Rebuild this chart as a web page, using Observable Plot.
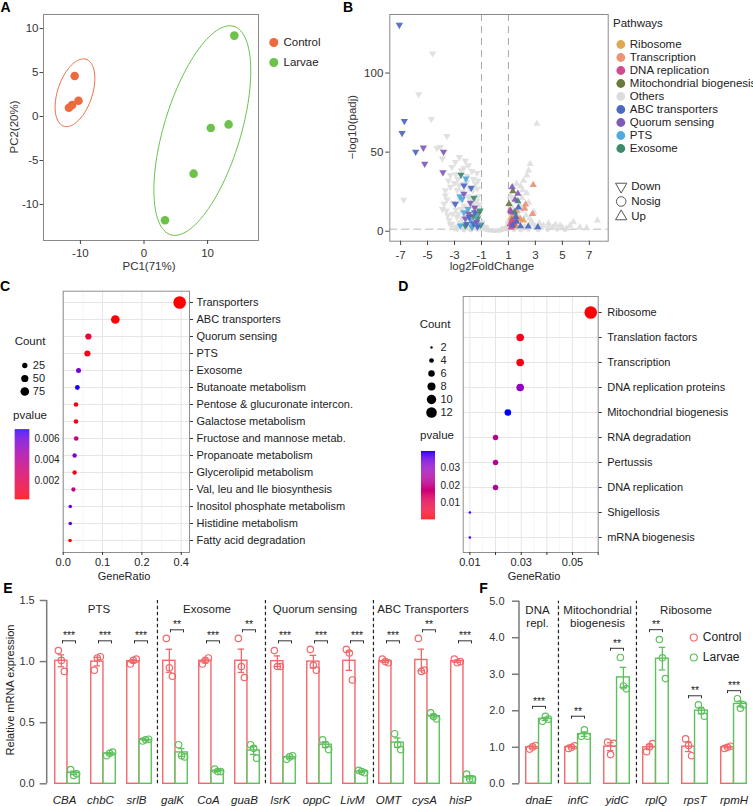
<!DOCTYPE html>
<html><head><meta charset="utf-8">
<script src="https://cdn.jsdelivr.net/npm/d3@7"></script>
<script src="https://cdn.jsdelivr.net/npm/@observablehq/plot@0.6"></script>
<style>
body{margin:0;background:#fff;}
#fig{position:relative;width:753px;height:806px;overflow:hidden;background:#fff;font-family:'Liberation Sans',Arial,Helvetica,sans-serif;color:#222;}
.t{position:absolute;white-space:nowrap;line-height:1;}
</style></head><body><div id="fig"></div>
<script>
// ================= DATA =================
// Panel A (PCA)
const pcaGroups = ["Control", "Larvae"];
const pcaColors = ["#EE6A3C", "#6CC24A"];
const controlPC1 = [-10.9, -11.8, -11.3, -10.3];
const controlPC2 = [4.6, 1.0, 1.3, 1.8];
const larvaePC1 = [14.2, 10.5, 13.3, 7.8, 3.3];
const larvaePC2 = [9.2, -1.3, -0.9, -6.5, -11.8];
const ellipseCenters = [[-10.85, 2.7], [9.17, -1.6]];
const ellipseAxisU = [[1.76, 3.8], [4.96, 11.85]];
const ellipseAxisV = [[2.58, -0.62], [5.78, -1.26]];
const pcaXTicks = [-10, 0, 10];
const pcaYTicks = [-10, -5, 0, 5, 10];

// Panel B (volcano)
const pathways = ["Ribosome","Transcription","DNA replication","Mitochondrial biogenesis","Others","ABC transporters","Quorum sensing","PTS","Exosome"];
const pathwayColors = ["#DBA94F","#EC9378","#CD4C8C","#697A3B","#DCDCDC","#4C68C0","#7F5BB8","#52A9DC","#3D8B69"];
const directions = ["Down","Nosig","Up"];
const volcXTicks = [-7,-5,-3,-1,1,3,5,7];
const volcYTicks = [0,50,100];
const volcOthers = [
 [-4.62,112.3],[-5.66,86.5],[-4.72,70.9],[-3.56,60.1],[-4.05,53.2],[-6.77,19.9],
 [-2.64,46.8],[-2.94,43.7],[-1.96,41.6],[-3.2,40.5],[-1.33,36.7],[-3.31,35.5],[-2.5,38.5],[-2.2,44.5],
 [-2.75,33],[-3.0,30.5],[-3.68,25.8],[-3.68,22.6],[-3.78,17.3],[-2.9,13.5],[-2.84,9.2],[-3.2,4.7],
 [-1.64,25.8],[-1.44,30.0],[-2.1,31],[-1.9,27],[-2.4,25],[-3.3,28],[-2.6,20],[-3.1,18],[-2.3,16],
 [-1.8,20.5],[-1.25,22],[-1.15,17],[-1.5,14],[-2.7,11],[-3.5,10],[-3.4,7],[-2.6,5.5],[-2.1,7],
 [-1.7,5],[-1.2,9],[-1.1,5.5],[-1.4,3],[-2.4,2.5],[-3.0,2.2],[-1.9,1.8],[-1.05,2.2],[-3.9,14],
 [-3.6,13],[-2.0,22],[-2.5,14],[-1.6,33],[-2.8,26],[-1.3,27],[-1.1,12],[-3.9,46],[-4.3,52.5],
 [-2.35,30],[-1.85,11],[-1.6,17.5],[-2.2,9.5],[-3.3,4],[-2.8,3],[-1.5,8],[-2.9,36],[-2.3,40],[-1.7,38],
 [-3.45,32],[-2.05,35],[-1.25,32],[-2.65,29],[-3.55,20],[-1.95,15],[-1.35,19],[-2.45,8],[-3.15,11],[-1.75,1.9],
 [3.11,68.0],[2.61,42.6],[2.37,35.3],[2.5,38.5],[2.12,32],[1.9,28.5],[1.15,22],[1.35,20.5],[2.0,21],
 [1.2,16],[2.35,24],[2.9,12],[2.6,8],[3.3,5],[3.97,5],[3.6,3.6],[4.83,3.6],[5.57,3.6],[5.82,5.7],
 [7.6,6.8],[4.3,2.5],[5.0,2.2],[4.5,4.2],[3.0,3],[2.3,10],[1.1,8],[1.7,11],[2.8,4.5],[6.3,2.4],
 [1.05,3],[2.05,26],[1.6,30],[2.2,15],[1.3,14],[1.85,16],[2.5,18],[1.5,4],[3.4,2.2],[4.0,2.8],
 [5.3,1.8],[6.8,2],[2.2,3],[1.25,11],[1.95,13],[2.7,6],[1.1,5],[1.7,2.2],
 [-0.95,1.5],[-0.9,2.5],[-0.85,3.5],[-0.8,1.8],[-0.7,0.9],[-0.6,1.2],[-0.5,0.6],[-0.4,0.8],[-0.3,0.4],
 [-0.2,0.6],[-0.1,0.3],[0,0.2],[0.1,0.4],[0.2,0.3],[0.3,0.6],[0.4,0.5],[0.5,0.8],[0.6,1.0],[0.7,1.4],
 [0.8,1.7],[0.85,2.6],[0.9,3.2],[0.95,1.2],[-0.95,4.5],[0.95,4.2],[-0.75,2.2],[0.75,2.3],[-1.3,0.9],
 [-1.8,0.7],[-2.3,0.6],[-2.8,0.9],[1.4,0.8],[1.9,0.6],[2.5,1.0],[3.2,0.7],[3.9,0.9],[4.6,1.1],[5.2,0.8],
 [-0.9,6],[0.92,5.5],[-0.6,2.8],[0.55,2]
];
const volcRibosome = [[1.38,9.9],[2.12,6.8],[1.5,4.2],[1.8,7.5],[1.3,6.2],[1.45,3.0],[1.6,9.0],[1.2,8.5]];
const volcTranscription = [[2.84,29.3],[2.27,16.9],[2.2,14.2],[2.79,11.0],[1.6,13.0],[1.4,10.5],[1.9,7.5]];
const volcDNArep = [[1.13,13.1],[1.13,4.5],[1.26,7.0],[1.4,5.0],[1.2,2.5],[1.55,6.5],[1.3,3.5]];
const volcMito = [[1.33,25.3],[1.04,17.3],[-1.25,11.0],[-1.6,9.5]];
const volcABC = [[-7.09,130.4],[-6.72,69.6],[-6.89,62.0],[-5.88,50.2],[-2.30,28.9],[-1.76,27.4],[-2.94,17.3],
 [-1.9,9.0],[-1.6,5.0],[-2.1,4.5],[-1.3,3.0],[-1.5,12.0],[1.74,15.0],[2.47,3.0],[3.18,2.6],[1.6,6.0],[1.9,3.2],[1.3,3.8],[1.55,9.0]];
const volcQuorum = [[-5.31,52.8],[-5.21,42.6],[-3.81,50.2],[-3.86,37.3],[-2.30,23.7],[-1.83,17.9],[-1.95,11.0],
 [-2.2,8.0],[-1.5,15.0],[-1.35,6.0],[1.28,27.8],[1.70,23.7],[1.5,20.0],[1.2,12.0]];
const volcPTS = [[-2.15,33.2],[-2.43,20.3],[-2.57,3.6],[-2.6,22.0],[-2.0,14.0],[-1.8,7.0],[-1.4,10.0],[-2.3,12.0],[-1.2,4.0],[-1.7,3.0]];
const volcExosome = [[-2.52,35.7],[-1.56,21.1],[-1.11,13.1],[-2.2,3.6],[-1.3,8.0],[-1.7,2.8],[-1.05,4.0],[1.7,19.0],[1.45,12.0]];

// Panel C (KEGG enrichment, down)
const cPathways = ["Transporters","ABC transporters","Quorum sensing","PTS","Exosome","Butanoate metabolism",
 "Pentose & glucuronate intercon.","Galactose metabolism","Fructose and mannose metab.","Propanoate metabolism",
 "Glycerolipid metabolism","Val, leu and Ile biosynthesis","Inositol phosphate metabolism","Histidine metabolism","Fatty acid degradation"];
const cGeneRatio = [0.296,0.1325,0.064,0.0615,0.039,0.036,0.0325,0.0325,0.033,0.029,0.029,0.026,0.018,0.018,0.0175];
const cCount = [167,75,36,35,22,20,18,18,19,16,16,15,10,10,10];
const cPvalue = [0.0002,0.0003,0.0012,0.0006,0.0058,0.0068,0.0005,0.0006,0.0032,0.0055,0.0005,0.0033,0.0060,0.0062,0.0003];
const cXTicks = [0, 0.1, 0.2, 0.3];
const cXTickLabels = ["0.0","0.1","0.2","0.4"];
const cCountLegend = [25, 50, 75];
const cPLegend = [0.002, 0.004, 0.006];

// Panel D (KEGG enrichment, up)
const dPathways = ["Ribosome","Translation factors","Transcription","DNA replication proteins","Mitochondrial biogenesis",
 "RNA degradation","Pertussis","DNA replication","Shigellosis","mRNA biogenesis"];
const dGeneRatio = [0.0571,0.0296,0.0296,0.0296,0.0248,0.0200,0.0200,0.0200,0.0100,0.0100];
const dCount = [12,6,6,6,5,4,4,4,2,2];
const dPvalue = [0.0005,0.0025,0.0015,0.030,0.0397,0.022,0.022,0.022,0.037,0.037];
const dXTicks = [0.01,0.02,0.03,0.04,0.05,0.06];
const dXLabelled = [0.01,0.03,0.05];
const dCountLegend = [2,4,6,8,10,12];
const dPLegend = [0.01,0.02,0.03];

// Panel E (qPCR, down genes)
const eGenes = ["CBA","chbC","srlB","galK","CoA","guaB","lsrK","oppC","LivM","OMT","cysA","hisP"];
const eControl = [[1.09,1.01,0.92],[0.93,1.03,1.04],[0.98,1.01,1.02],[1.19,0.95,0.88],[0.98,1.01,1.03],[1.19,0.96,0.87],
 [1.09,0.96,0.96],[1.10,0.97,0.93],[1.10,1.07,0.85],[1.02,1.00,0.99],[1.19,0.92,0.93],[1.02,0.99,1.00]];
const eLarvae = [[0.117,0.068,0.082],[0.23,0.25,0.26],[0.35,0.36,0.365],[0.32,0.23,0.22],[0.12,0.10,0.10],[0.32,0.29,0.21],
 [0.20,0.22,0.23],[0.36,0.32,0.28],[0.11,0.10,0.09],[0.41,0.32,0.28],[0.58,0.55,0.53],[0.08,0.04,0.04]];
const eStars = ["***","***","***","**","***","**","***","***","***","***","**","***"];
const eBracketY = [1.17,1.17,1.17,1.26,1.17,1.26,1.17,1.17,1.17,1.17,1.26,1.17];
const eGroupNames = ["PTS","Exosome","Quorum sensing","ABC Transporters"];
const eGroupCenterGenes = ["chbC","CoA","oppC","cysA"];
const eGroupStartGenes = ["galK","lsrK","OMT"];
const eYTicks = [0, 0.5, 1.0, 1.5];

// Panel F (qPCR, up genes)
const fGenes = ["dnaE","infC","yidC","rplQ","rpsT","rpmH"];
const fControl = [[0.95,1.01,1.05],[0.97,1.00,1.04],[1.14,0.80,1.11],[0.88,1.02,1.10],[1.23,1.05,0.77],[0.97,1.00,1.03]];
const fLarvae = [[1.71,1.85,1.77],[1.30,1.48,1.30],[3.46,2.68,2.60],[3.95,3.45,2.88],[2.16,2.00,1.85],[2.33,2.07,2.16]];
const fStars = ["***","**","**","**","**","***"];
const fBracketY = [2.12,1.85,3.71,4.22,2.41,2.55];
const fGroupNames = ["DNA\nrepl.","Mitochondrial\nbiogenesis","Ribosome"];
const fGroupAnchorGenes = ["dnaE","infC","rpsT"];
const fGroupStartGenes = ["infC","rplQ"];
const fYTicks = [0,1,2,3,4,5];

const qColors = ["#F2686B", "#5DC05D"];

// ================= HELPERS =================
const FONT = "'Liberation Sans', Arial, Helvetica, sans-serif";
const baseStyle = {fontFamily: FONT, fontSize: "11px", background: "transparent", overflow: "visible", color: "#222"};
const fig = document.getElementById("fig");
function place(el, left, top) {
  el.style.position = "absolute"; el.style.left = left + "px"; el.style.top = top + "px";
  fig.appendChild(el); return el;
}
function label(text, x, y, o = {}) {
  const d = document.createElement("div");
  d.className = "t"; d.textContent = text;
  d.style.fontSize = (o.size || 11) + "px";
  d.style.fontWeight = o.weight || "normal";
  d.style.color = o.color || "#222";
  d.style.left = x + "px"; d.style.top = y + "px";
  const tx = o.anchor === "start" ? "0" : o.anchor === "end" ? "-100%" : "-50%";
  d.style.transform = `translate(${tx},-50%)` + (o.rotate ? ` rotate(${o.rotate}deg)` : "");
  fig.appendChild(d);
}
const triDown = {
  draw(ctx, size) {
    const y = -Math.sqrt(size / (Math.sqrt(3) * 3));
    ctx.moveTo(0, -y * 2);
    ctx.lineTo(Math.sqrt(3) * y, y);
    ctx.lineTo(-Math.sqrt(3) * y, y);
    ctx.closePath();
  }
};
const fmt = d => `${d}`;
// vertical list legend scale helper
const listY = (domain, range) => ({type: "point", domain, range, padding: 0, axis: null});

// ================= PANEL A =================
const pcaRows = [
  ...controlPC1.map((x, i) => ({group: "Control", x, y: controlPC2[i]})),
  ...larvaePC1.map((x, i) => ({group: "Larvae", x, y: larvaePC2[i]}))
];
const ellipseRows = pcaGroups.flatMap((g, gi) => d3.range(0, 121).map(i => {
  const t = 2 * Math.PI * i / 120;
  return {group: g,
    x: ellipseCenters[gi][0] + ellipseAxisU[gi][0] * Math.cos(t) + ellipseAxisV[gi][0] * Math.sin(t),
    y: ellipseCenters[gi][1] + ellipseAxisU[gi][1] * Math.cos(t) + ellipseAxisV[gi][1] * Math.sin(t)};
}));
place(Plot.plot({
  width: 270, height: 280, marginLeft: 43, marginRight: 12, marginTop: 14, marginBottom: 40,
  style: baseStyle,
  x: {domain: [-15.8, 18]}, y: {domain: [-14.1, 11.6]},
  color: {domain: pcaGroups, range: pcaColors},
  marks: [
    Plot.line(ellipseRows, {x: "x", y: "y", z: "group", stroke: "group", strokeWidth: 1}),
    Plot.dot(pcaRows, {x: "x", y: "y", fill: "group", r: 4.3}),
    Plot.frame({stroke: "#8a8a8a"}),
    Plot.axisX({ticks: pcaXTicks, tickFormat: fmt, tickSize: 4, tickPadding: 4, stroke: "#444", fill: "#333", label: null, fontSize: 11.5}),
    Plot.axisY({ticks: pcaYTicks, tickFormat: fmt, tickSize: 3.5, tickPadding: 1.5, stroke: "#444", fill: "#333", label: null, fontSize: 11.5})
  ]
}), 0, 0);
place(Plot.plot({
  width: 100, height: 45, margin: 0, style: baseStyle,
  x: {type: "identity", axis: null}, y: listY(pcaGroups, [11.3, 32]),
  color: {domain: pcaGroups, range: pcaColors},
  marks: [
    Plot.dot(pcaGroups, {x: 11.3, y: d => d, fill: d => d, r: 4.5}),
    Plot.text(pcaGroups, {x: 21, y: d => d, text: d => d, textAnchor: "start", fontSize: 11.5, fill: "#222"})
  ]
}), 262, 30);
label("PC2(20%)", 15, 127, {rotate: -90, size: 11.5, color: "#333"});
label("PC1(71%)", 149, 267, {size: 11.5, color: "#333"});

// ================= PANEL B =================
function classify(x, y) { return x > 1 && y > 1.3 ? "Up" : x < -1 && y > 1.3 ? "Down" : "Nosig"; }
function vrows(arr, pathway) { return arr.map(([x, y]) => ({x, y, pathway, dir: classify(x, y)})); }
const othersRows = vrows(volcOthers, "Others");
const colouredRows = [
  ...vrows(volcRibosome, "Ribosome"), ...vrows(volcTranscription, "Transcription"),
  ...vrows(volcDNArep, "DNA replication"), ...vrows(volcMito, "Mitochondrial biogenesis"),
  ...vrows(volcExosome, "Exosome"), ...vrows(volcPTS, "PTS"),
  ...vrows(volcQuorum, "Quorum sensing"), ...vrows(volcABC, "ABC transporters")
];
const symFor = {Down: triDown, Nosig: "circle", Up: "triangle"};
const volcMarks = [];
for (const rows of [othersRows, colouredRows]) {
  for (const dir of directions) {
    volcMarks.push(Plot.dot(rows.filter(d => d.dir === dir), {
      x: "x", y: "y", fill: "pathway", symbol: symFor[dir], r: dir === "Nosig" ? 2.2 : 2.7,
      fillOpacity: rows === othersRows ? 0.85 : 0.92
    }));
  }
}
place(Plot.plot({
  width: 250, height: 275, marginLeft: 29.3, marginRight: 2.3, marginTop: 14, marginBottom: 34.3,
  style: baseStyle,
  x: {domain: [-7.8, 8.4]}, y: {domain: [-6.3, 137]},
  color: {domain: pathways, range: pathwayColors},
  marks: [
    Plot.ruleX([-1, 1], {stroke: "#a8a8a8", strokeDasharray: "7,5", strokeWidth: 1}),
    Plot.ruleY([1.3], {stroke: "#b8b8b8", strokeDasharray: "8,4", strokeWidth: 1}),
    ...volcMarks,
    Plot.frame({stroke: "#8a8a8a"}),
    Plot.axisX({ticks: volcXTicks, tickFormat: fmt, tickSize: 4.3, tickPadding: 5, stroke: "#444", fill: "#333", label: null, fontSize: 11.5}),
    Plot.axisY({ticks: volcYTicks, tickFormat: fmt, tickSize: 4, tickPadding: 2.5, stroke: "#444", fill: "#333", label: null, fontSize: 11.5})
  ]
}), 360, 0);
place(Plot.plot({
  width: 153, height: 135, margin: 0, style: baseStyle,
  x: {type: "identity", axis: null}, y: listY(pathways, [10.3, 121.7]),
  color: {domain: pathways, range: pathwayColors},
  marks: [
    Plot.dot(pathways, {x: 20.3, y: d => d, fill: d => d, r: 4.4}),
    Plot.text(pathways, {x: 29.3, y: d => d, text: d => d, textAnchor: "start", fontSize: 11.5, fill: "#222"})
  ]
}), 600, 30);
place(Plot.plot({
  width: 100, height: 55, margin: 0, style: baseStyle,
  x: {type: "identity", axis: null}, y: listY(directions, [10.3, 42.3]),
  marks: [
    ...directions.map(dir => Plot.dot([dir], {x: 20.7, y: d => d, symbol: symFor[dir], r: dir === "Nosig" ? 4.8 : 4.2, stroke: "#555", strokeWidth: 1, fill: "none"})),
    Plot.text(directions, {x: 30.7, y: d => d, text: d => d, textAnchor: "start", fontSize: 11.5, fill: "#222"})
  ]
}), 600, 175);
label("Pathways", 613, 24, {anchor: "start", size: 11.5});
label("\u2212log10(padj)", 353, 127, {rotate: -90, size: 11.5, color: "#333"});
label("log2FoldChange", 492, 267, {size: 11.5, color: "#333"});

// ================= PANEL C =================
const cRows = cPathways.map((name, i) => ({name, ratio: cGeneRatio[i], count: cCount[i], p: cPvalue[i]}));
const cColor = {type: "linear", domain: [0.00025, 0.00685], range: ["#ff0000", "#0000ff"], interpolate: "lab"};
const cR = {type: "sqrt", domain: [10, 167], range: [1.8, 6.3]};
place(Plot.plot({
  width: 370, height: 310, marginLeft: 62.7, marginRight: 181, marginTop: 20.7, marginBottom: 28,
  style: baseStyle,
  x: {domain: [0, 0.321]},
  y: {type: "point", domain: cPathways, padding: 0.65},
  r: cR, color: cColor,
  marks: [
    Plot.gridX([0.05, 0.15, 0.25], {stroke: "#f0f0f0", strokeOpacity: 1, strokeWidth: 0.6}),
    Plot.gridX(cXTicks, {stroke: "#e6e6e6", strokeOpacity: 1, strokeWidth: 1}),
    Plot.gridY(cPathways, {stroke: "#e6e6e6", strokeOpacity: 1, strokeWidth: 1}),
    Plot.frame({stroke: "#8f8f8f"}),
    Plot.dot(cRows, {x: "ratio", y: "name", r: "count", fill: "p"}),
    Plot.axisX({ticks: cXTicks, tickFormat: d => cXTickLabels[cXTicks.indexOf(d)], tickSize: 3, tickPadding: 2.5, stroke: "#333", fill: "#222", label: null, fontSize: 11}),
    Plot.axisY({anchor: "right", tickSize: 3, tickPadding: 4, stroke: "#333", fill: "#1a1a1a", label: null, fontSize: 11})
  ]
}), 0, 270);
place(Plot.plot({
  width: 60, height: 45, margin: 0, style: baseStyle,
  x: {type: "identity", axis: null}, y: listY(cCountLegend, [9.3, 36.7]),
  r: cR,
  marks: [
    Plot.dot(cCountLegend, {x: 24.3, y: d => d, r: d => d, fill: "#000"}),
    Plot.text(cCountLegend, {x: 32.3, y: d => d, text: d => `${d}`, textAnchor: "start", fontSize: 11, fill: "#222"})
  ]
}), 0, 355);
const cBarSamples = d3.range(0, 70).map(i => cColor.domain[0] + (cColor.domain[1] - cColor.domain[0]) * i / 70);
const cBarStep = (cColor.domain[1] - cColor.domain[0]) / 70;
place(Plot.plot({
  width: 70, height: 90, margin: 0, style: baseStyle,
  x: {type: "identity", axis: null}, y: {domain: cColor.domain, range: [79.3, 9.3], axis: null},
  color: cColor,
  marks: [
    Plot.rect(cBarSamples, {x1: 14.7, x2: 29.3, y1: d => d, y2: d => d + cBarStep * 1.05, fill: d => d}),
    Plot.text(cPLegend, {x: 34, y: d => d, text: d => d.toFixed(3), textAnchor: "start", fontSize: 10, fill: "#222"})
  ]
}), 0, 420);
label("Count", 30, 342, {size: 11.5});
label("pvalue", 30, 416, {size: 11.5});
label("GeneRatio", 124, 575.5, {size: 11});

// ================= PANEL D =================
const dRows = dPathways.map((name, i) => ({name, ratio: dGeneRatio[i], count: dCount[i], p: dPvalue[i]}));
const dColor = {type: "linear", domain: [0.0002, 0.0397], range: ["#ff0000", "#0000ff"], interpolate: "lab"};
place(Plot.plot({
  width: 383, height: 310, marginLeft: 92.7, marginRight: 155.3, marginTop: 26, marginBottom: 28,
  style: baseStyle,
  x: {domain: [0.0074, 0.06]},
  y: {type: "point", domain: dPathways, padding: 0.6},
  r: {type: "sqrt", domain: [2, 12], range: [1.3, 6.3]}, color: dColor,
  marks: [
    Plot.gridX([0.015, 0.025, 0.035, 0.045, 0.055], {stroke: "#f0f0f0", strokeOpacity: 1, strokeWidth: 0.6}),
    Plot.gridX(dXTicks, {stroke: "#e6e6e6", strokeOpacity: 1, strokeWidth: 1}),
    Plot.gridY(dPathways, {stroke: "#e6e6e6", strokeOpacity: 1, strokeWidth: 1}),
    Plot.frame({stroke: "#8f8f8f"}),
    Plot.dot(dRows, {x: "ratio", y: "name", r: "count", fill: "p"}),
    Plot.axisX({ticks: dXTicks, tickFormat: d => dXLabelled.includes(d) ? d.toFixed(2) : "", tickSize: 3, tickPadding: 2.5, stroke: "#333", fill: "#222", label: null, fontSize: 11}),
    Plot.axisY({anchor: "right", tickSize: 3, tickPadding: 6, stroke: "#333", fill: "#1a1a1a", label: null, fontSize: 11})
  ]
}), 370, 270);
place(Plot.plot({
  width: 50, height: 82, margin: 0, style: baseStyle,
  x: {type: "identity", axis: null}, y: listY(dCountLegend, [7.7, 74.7]),
  r: {type: "sqrt", domain: [2, 12], range: [1.2, 5.3]},
  marks: [
    Plot.dot(dCountLegend, {x: 21, y: d => d, r: d => d, fill: "#000"}),
    Plot.text(dCountLegend, {x: 30, y: d => d, text: d => `${d}`, textAnchor: "start", fontSize: 11, fill: "#222"})
  ]
}), 410, 338);
const dBarSamples = d3.range(0, 70).map(i => dColor.domain[0] + (dColor.domain[1] - dColor.domain[0]) * i / 70);
const dBarStep = (dColor.domain[1] - dColor.domain[0]) / 70;
place(Plot.plot({
  width: 70, height: 90, margin: 0, style: baseStyle,
  x: {type: "identity", axis: null}, y: {domain: dColor.domain, range: [79.3, 11], axis: null},
  color: dColor,
  marks: [
    Plot.rect(dBarSamples, {x1: 11, x2: 25, y1: d => d, y2: d => d + dBarStep * 1.05, fill: d => d}),
    Plot.text(dPLegend, {x: 30, y: d => d, text: d => d.toFixed(2), textAnchor: "start", fontSize: 10, fill: "#222"})
  ]
}), 410, 440);
label("Count", 435, 325, {size: 11.5});
label("pvalue", 437, 436, {size: 11.5});
label("GeneRatio", 534, 575.5, {size: 11});

// ================= PANELS E & F =================
function barPanel(cfg) {
  const n = cfg.genes.length;
  const step = (cfg.width - cfg.ml - cfg.mr) / (n + 2 * cfg.outer);
  const half = step / 2, bw = cfg.barW, cap = 3.3, bh = 6.5;
  const rows = cfg.genes.flatMap((gene, i) => [
    {gene, group: "Control", reps: cfg.control[i]},
    {gene, group: "Larvae", reps: cfg.larvae[i]}
  ]).map(d => ({...d, mean: d3.mean(d.reps), se: d3.deviation(d.reps) / Math.sqrt(d.reps.length)}));
  const pts = rows.flatMap(d => d.reps.map((value, k) => ({gene: d.gene, group: d.group, value, k})));
  const sig = cfg.genes.map((gene, i) => ({gene, stars: cfg.stars[i], yb: cfg.bracketY[i]}));
  const marks = [];
  marks.push(Plot.ruleX(cfg.separators, {x: d => d, dx: -half, y1: cfg.yDomain[0], y2: cfg.yDomain[1], stroke: "#222", strokeWidth: 1.2, strokeDasharray: "3.5,2.5"}));
  marks.push((index, scales, values, dims) => {
    const l = document.createElementNS("http://www.w3.org/2000/svg", "line");
    l.setAttribute("x1", dims.marginLeft); l.setAttribute("x2", dims.marginLeft);
    l.setAttribute("y1", scales.y(cfg.yDomain[0])); l.setAttribute("y2", scales.y(cfg.yDomain[1]));
    l.setAttribute("stroke", "#7a7a7a"); l.setAttribute("stroke-width", 1.5);
    return l;
  });
  ["Control", "Larvae"].forEach((g, gi) => {
    const col = qColors[gi];
    const sign = gi === 0 ? -1 : 1;
    const data = rows.filter(d => d.group === g);
    marks.push(Plot.barY(data, {x: "gene", y: "mean", insetLeft: gi === 0 ? half - bw : half, insetRight: gi === 0 ? half : half - bw, fill: "white", stroke: col, strokeWidth: 1.4}));
    marks.push(Plot.ruleX(data, {x: "gene", y1: d => d.mean - d.se, y2: d => d.mean + d.se, dx: sign * bw / 2, stroke: col, strokeWidth: 1.3}));
    const il = gi === 0 ? half - bw / 2 - cap : half + bw / 2 - cap;
    const ir = gi === 0 ? half + bw / 2 - cap : half - bw / 2 - cap;
    marks.push(Plot.tickY(data, {x: "gene", y: d => d.mean + d.se, insetLeft: il, insetRight: ir, stroke: col, strokeWidth: 1.3}));
    marks.push(Plot.tickY(data, {x: "gene", y: d => d.mean - d.se, insetLeft: il, insetRight: ir, stroke: col, strokeWidth: 1.3}));
    for (let k = 0; k < 3; k++) {
      marks.push(Plot.dot(pts.filter(d => d.group === g && d.k === k), {x: "gene", y: "value", dx: sign * bw / 2 + (k - 1) * 3, r: 3.2, stroke: col, strokeWidth: 1.2, fill: "none"}));
    }
  });
  marks.push(Plot.tickY(sig, {x: "gene", y: "yb", insetLeft: half - bh + cfg.bdx, insetRight: half - bh - cfg.bdx, stroke: "#333", strokeWidth: 1}));
  marks.push(Plot.ruleX(sig, {x: "gene", y1: "yb", y2: d => d.yb - cfg.bracketTick, dx: -bh + cfg.bdx, stroke: "#333", strokeWidth: 1}));
  marks.push(Plot.ruleX(sig, {x: "gene", y1: "yb", y2: d => d.yb - cfg.bracketTick, dx: bh + cfg.bdx, stroke: "#333", strokeWidth: 1}));
  marks.push(Plot.text(sig, {x: "gene", y: "yb", text: "stars", dy: -4.9, dx: cfg.bdx, fontSize: 10.5, fill: "#222"}));
  cfg.groups.forEach(gr => marks.push(Plot.text([gr], {x: "gene", y: cfg.yDomain[1], text: "text", dx: gr.dx, dy: cfg.groupDy, lineAnchor: cfg.groupLineAnchor, lineHeight: 1.16, fontSize: 11.5, fill: "#222"})));
  marks.push(Plot.axisY({ticks: cfg.yTicks, tickFormat: d3.format(".1f"), tickSize: 7, tickPadding: cfg.tickPadY, stroke: "#7a7a7a", strokeWidth: 1.5, fill: "#333", label: null, fontSize: 11}));
  marks.push(Plot.axisX({tickSize: 0, tickPadding: 12, fontStyle: "italic", dx: cfg.labelDx, fill: "#222", label: null, fontSize: 11.5}));
  return Plot.plot({
    width: cfg.width, height: cfg.height, marginLeft: cfg.ml, marginRight: cfg.mr, marginTop: cfg.mt, marginBottom: cfg.mb,
    style: baseStyle,
    x: {domain: cfg.genes, paddingInner: 0, paddingOuter: cfg.outer, align: 0.5},
    y: {domain: cfg.yDomain},
    marks
  });
}
place(barPanel({
  width: 490, height: 216, ml: 46.7, mr: 7.7, mt: 10, mb: 22.7, outer: 0.033, barW: 12.3,
  genes: eGenes, control: eControl, larvae: eLarvae, stars: eStars, bracketY: eBracketY, bracketTick: 0.025, bdx: 1.5,
  yDomain: [0, 1.5], yTicks: eYTicks, tickPadY: 5.5, separators: eGroupStartGenes, labelDx: -3,
  groups: eGroupNames.map((text, i) => ({text, gene: eGroupCenterGenes[i], dx: -4.5})), groupDy: 8.3, groupLineAnchor: "middle"
}), 0, 590);
place(barPanel({
  width: 274, height: 216, ml: 39, mr: 0.4, mt: 10.7, mb: 22.7, outer: 0, barW: 12.8,
  genes: fGenes, control: fControl, larvae: fLarvae, stars: fStars, bracketY: fBracketY, bracketTick: 0.082, bdx: 0,
  yDomain: [0, 5], yTicks: fYTicks, tickPadY: 8, separators: fGroupStartGenes, labelDx: 0,
  groups: fGroupNames.map((text, i) => ({text, gene: fGroupAnchorGenes[i], dx: [-1.5, 19.5, -9][i]})), groupDy: 3, groupLineAnchor: "top"
}), 480, 590);
place(Plot.plot({
  width: 73, height: 45, margin: 0, style: baseStyle,
  x: {type: "identity", axis: null}, y: listY(pcaGroups, [11.7, 31.7]),
  color: {domain: pcaGroups, range: qColors},
  marks: [
    Plot.dot(pcaGroups, {x: 13.3, y: d => d, stroke: d => d, r: 3.5, strokeWidth: 1.2, fill: "none"}),
    Plot.text(pcaGroups, {x: 22.3, y: d => d, text: d => d, textAnchor: "start", fontSize: 12, fill: "#222"})
  ]
}), 680, 625);
label("Relative mRNA expression", 9.5, 690, {rotate: -90, size: 11, color: "#222"});

// ================= PANEL LETTERS =================
[["A", 0.5, 6.7], ["B", 343, 7.2], ["C", 0, 286.2], ["D", 398.3, 286.2], ["E", 3.3, 587.5], ["F", 479.3, 587.5]]
  .forEach(([t, x, y]) => label(t, x, y, {anchor: "start", size: 14, weight: "bold", color: "#000"}));
</script></body></html>
